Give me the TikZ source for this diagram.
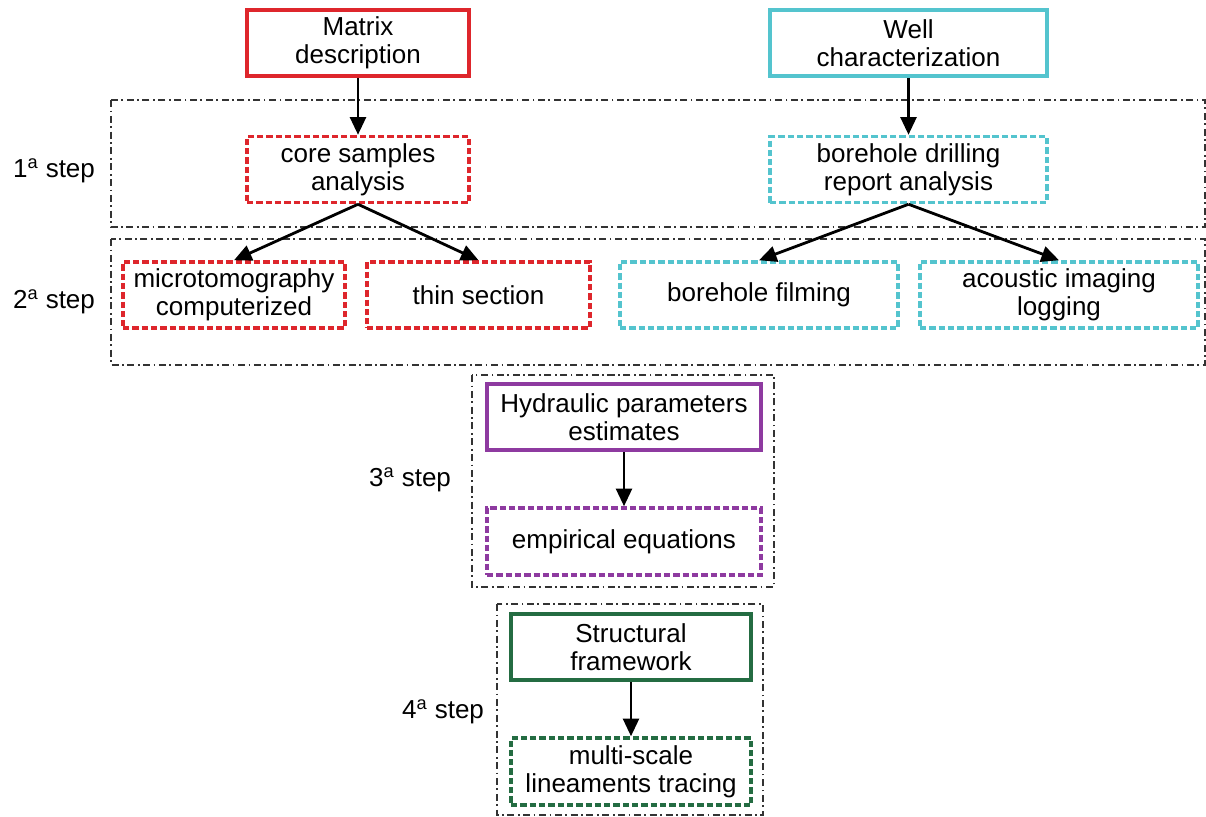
\documentclass[tikz,border=0pt]{standalone}
\usepackage{fontspec}
\setmainfont{Liberation Sans}
\usepackage{tikz}
\usetikzlibrary{arrows.meta,positioning}
\definecolor{matrixred}{RGB}{222,38,44}
\definecolor{wellcyan}{RGB}{84,196,206}
\definecolor{hydropurple}{RGB}{142,58,160}
\definecolor{structgreen}{RGB}{36,108,66}
\tikzset{
  solidbox/.style={draw, line width=2pt, align=center, inner sep=0pt, minimum height=1.32cm},
  dashbox/.style={solidbox, dash pattern=on 3.6pt off 1.7pt},
  stepframe/.style={draw=black!80, line width=0.6pt, dash pattern=on 4pt off 2pt on 1pt off 2pt},
  flow/.style={-{Triangle[length=10pt,width=9pt]}, line width=1.6pt},
}
\begin{document}
\begin{tikzpicture}[x=0.02cm, y=-0.02cm, every node/.style={font=\fontsize{14.8}{16}\selectfont}]
    \useasboundingbox (0,0) rectangle (1206,816);
    % step frames
    \draw [stepframe] (111,100) rectangle (1205,227);
    \draw [stepframe] (111,239) rectangle (1205,365);
    \draw [stepframe] (472,375) rectangle (774,587);
    \draw [stepframe] (497,604) rectangle (763,815);
    \node (lab1) at (54,171) {1\textsuperscript{a} step};
    \node (lab2) at (54,302) {2\textsuperscript{a} step};
    \node (lab3) at (410,480) {3\textsuperscript{a} step};
    \node (lab4) at (443,712) {4\textsuperscript{a} step};
    % matrix branch
    \node [solidbox, draw=matrixred, minimum width=4.44cm] (matrix) at (358,43) {Matrix\\description};
    \node [dashbox, draw=matrixred, minimum width=4.44cm] (core) at (358,169.5) {core samples\\analysis};
    \node [dashbox, draw=matrixred, minimum width=4.44cm] (micro) at (234,295) {microtomography\\computerized};
    \node [dashbox, draw=matrixred, minimum width=4.46cm] (thin) at (478.5,295) {thin section};
    % well branch
    \node [solidbox, draw=wellcyan, minimum width=5.54cm] (well) at (908.5,43) {Well\\characterization};
    \node [dashbox, draw=wellcyan, minimum width=5.54cm] (report) at (908.5,169.5) {borehole drilling\\report analysis};
    \node [dashbox, draw=wellcyan, minimum width=5.56cm] (film) at (759,295) {borehole filming};
    \node [dashbox, draw=wellcyan, minimum width=5.56cm] (acoustic) at (1059,295) {acoustic imaging\\logging};
    % hydraulic
    \node [solidbox, draw=hydropurple, minimum width=5.48cm] (hydraulic) at (624,417) {Hydraulic parameters\\estimates};
    \node [dashbox, draw=hydropurple, minimum width=5.48cm, minimum height=1.34cm] (empirical) at (624,541.5) {empirical equations};
    % structural
    \node [solidbox, draw=structgreen, minimum width=4.8cm] (structural) at (631,647) {Structural\\framework};
    \node [dashbox, draw=structgreen, minimum width=4.8cm, minimum height=1.34cm] (multi) at (631,771.5) {multi-scale\\lineaments tracing};
    % arrows
    \draw [flow] (matrix) -- (core);
    \draw [flow] (core.south) -- (micro.north);
    \draw [flow] (core.south) -- (thin.north);
    \draw [flow] (well) -- (report);
    \draw [flow] (report.south) -- (film.north);
    \draw [flow] (report.south) -- (acoustic.north);
    \draw [flow] (hydraulic) -- (empirical);
    \draw [flow] (structural) -- (multi);
\end{tikzpicture}
\end{document}
